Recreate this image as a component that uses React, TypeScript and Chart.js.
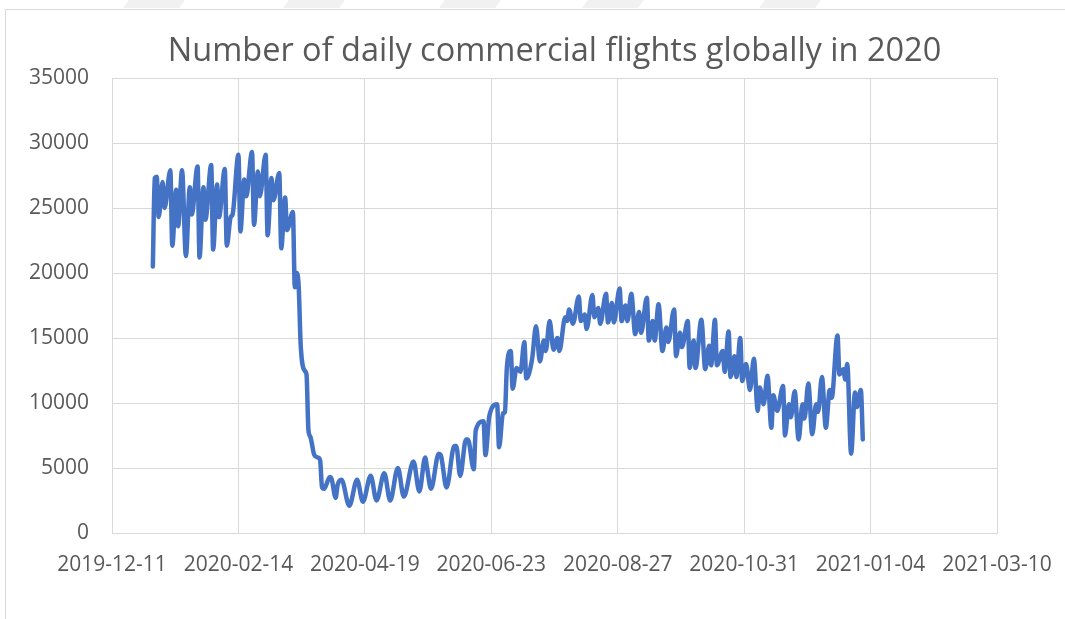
import React, { useEffect, useRef } from "react";
import { Chart, registerables } from "chart.js";

Chart.register(...registerables);

const chartTitle = "Number of daily commercial flights globally in 2020";
const axisStart = "2019-12-11";
const xTickLabels = [
  "2019-12-11", "2020-02-14", "2020-04-19", "2020-06-23",
  "2020-08-27", "2020-10-31", "2021-01-04", "2021-03-10",
];
const yMin = 0;
const yMax = 35000;
const yStep = 5000;

const dates = [
  "2020-01-01", "2020-01-02", "2020-01-03", "2020-01-04", "2020-01-06", "2020-01-07",
  "2020-01-10", "2020-01-11", "2020-01-13", "2020-01-14", "2020-01-16", "2020-01-18",
  "2020-01-20", "2020-01-21", "2020-01-24", "2020-01-25", "2020-01-27", "2020-01-28",
  "2020-01-31", "2020-02-01", "2020-02-03", "2020-02-04", "2020-02-07", "2020-02-08",
  "2020-02-10", "2020-02-11", "2020-02-14", "2020-02-15", "2020-02-17", "2020-02-18",
  "2020-02-21", "2020-02-22", "2020-02-24", "2020-02-25", "2020-02-28", "2020-02-29",
  "2020-03-02", "2020-03-03", "2020-03-06", "2020-03-07", "2020-03-09", "2020-03-10",
  "2020-03-13", "2020-03-14", "2020-03-15", "2020-03-16", "2020-03-17", "2020-03-19",
  "2020-03-20", "2020-03-21", "2020-03-22", "2020-03-24", "2020-03-26", "2020-03-27",
  "2020-03-28", "2020-03-29", "2020-04-01", "2020-04-02", "2020-04-04", "2020-04-05",
  "2020-04-07", "2020-04-11", "2020-04-15", "2020-04-18", "2020-04-22", "2020-04-25",
  "2020-04-29", "2020-05-02", "2020-05-06", "2020-05-09", "2020-05-14", "2020-05-17",
  "2020-05-20", "2020-05-21", "2020-05-23", "2020-05-27", "2020-05-28", "2020-05-31",
  "2020-06-04", "2020-06-05", "2020-06-07", "2020-06-10", "2020-06-11", "2020-06-14",
  "2020-06-15", "2020-06-19", "2020-06-20", "2020-06-22", "2020-06-26", "2020-06-27",
  "2020-06-29", "2020-06-30", "2020-07-01", "2020-07-03", "2020-07-04", "2020-07-06",
  "2020-07-08", "2020-07-10", "2020-07-11", "2020-07-14", "2020-07-16", "2020-07-18",
  "2020-07-20", "2020-07-21", "2020-07-23", "2020-07-25", "2020-07-27", "2020-07-28",
  "2020-07-31", "2020-08-01", "2020-08-02", "2020-08-04", "2020-08-07", "2020-08-08",
  "2020-08-10", "2020-08-11", "2020-08-14", "2020-08-15", "2020-08-17", "2020-08-18",
  "2020-08-21", "2020-08-22", "2020-08-24", "2020-08-25", "2020-08-28", "2020-08-29",
  "2020-08-31", "2020-09-01", "2020-09-03", "2020-09-05", "2020-09-07", "2020-09-08",
  "2020-09-11", "2020-09-12", "2020-09-14", "2020-09-15", "2020-09-17", "2020-09-19",
  "2020-09-21", "2020-09-22", "2020-09-25", "2020-09-26", "2020-09-28", "2020-09-29",
  "2020-10-02", "2020-10-03", "2020-10-05", "2020-10-06", "2020-10-09", "2020-10-11",
  "2020-10-13", "2020-10-14", "2020-10-16", "2020-10-17", "2020-10-20", "2020-10-21",
  "2020-10-23", "2020-10-24", "2020-10-26", "2020-10-27", "2020-10-29", "2020-10-30",
  "2020-11-01", "2020-11-03", "2020-11-05", "2020-11-07", "2020-11-08", "2020-11-10",
  "2020-11-12", "2020-11-14", "2020-11-15", "2020-11-17", "2020-11-20", "2020-11-21",
  "2020-11-23", "2020-11-24", "2020-11-26", "2020-11-28", "2020-11-30", "2020-12-01",
  "2020-12-03", "2020-12-05", "2020-12-07", "2020-12-08", "2020-12-10", "2020-12-12",
  "2020-12-14", "2020-12-15", "2020-12-18", "2020-12-19", "2020-12-21", "2020-12-22",
  "2020-12-23", "2020-12-25", "2020-12-27", "2020-12-28", "2020-12-30", "2020-12-31",
];

const flights = [
  20500, 27300, 27400, 24300, 27000, 25000,
  27900, 22100, 26400, 23600, 27900, 21300,
  26600, 24500, 28200, 21200, 26600, 24100,
  28300, 21800, 26800, 24300, 28000, 22100,
  24300, 24500, 29100, 23200, 27200, 25900,
  29300, 23700, 27800, 25900, 29100, 22900,
  27300, 25600, 27700, 21900, 25800, 23300,
  24700, 18900, 20000, 18900, 14500, 12500,
  12200, 7900, 7400, 6000, 5800, 5600,
  3500, 3400, 4300, 4100, 2700, 3700,
  4100, 2100, 4100, 2400, 4400, 2500,
  4600, 2500, 5000, 2800, 5500, 3200,
  5800, 5000, 3400, 6100, 6000, 3500,
  6700, 6700, 4400, 7200, 7200, 4900,
  7900, 8600, 6000, 9000, 9900, 6600,
  9200, 9300, 12700, 14000, 11100, 12700,
  12400, 14700, 11900, 13400, 15900, 13200,
  14800, 14000, 16300, 14100, 15000, 14000,
  16600, 16300, 17200, 16100, 18200, 16300,
  16800, 15700, 18300, 16600, 17300, 16100,
  18400, 16200, 17700, 16200, 18800, 16300,
  17500, 16300, 18400, 15300, 17000, 15400,
  18100, 14800, 16300, 14800, 17600, 14000,
  15800, 14700, 17200, 13600, 15400, 14300,
  16300, 12700, 14800, 12700, 16400, 12600,
  14400, 12900, 16400, 12900, 14000, 12400,
  15500, 12000, 13600, 12000, 15000, 11700,
  13000, 11000, 13400, 9400, 11200, 9900,
  12100, 8100, 10600, 9400, 11300, 7500,
  9900, 8900, 10900, 7200, 9900, 8800,
  11500, 7600, 9900, 9300, 12000, 8100,
  11000, 10400, 15200, 12200, 12600, 11800,
  13000, 6100, 10800, 9700, 11000, 7200,
];

const DAY_MS = 86400000;
const toDay = (s: string) =>
  Math.round((Date.parse(s + "T00:00:00Z") - Date.parse(axisStart + "T00:00:00Z")) / DAY_MS);

export default function App() {
  const canvasRef = useRef<HTMLCanvasElement | null>(null);

  useEffect(() => {
    const canvas = canvasRef.current;
    if (!canvas) return;
    const points = dates.map((d, i) => ({ x: toDay(d), y: flights[i] }));
    const xMin = toDay(xTickLabels[0]);
    const xMax = toDay(xTickLabels[xTickLabels.length - 1]);
    const xStep = toDay(xTickLabels[1]) - xMin;
    const gridColor = "#d9d9d9";
    const textColor = "#595959";
    const fontFamily = "'Open Sans', 'DejaVu Sans', sans-serif";

    const chart = new Chart(canvas, {
      type: "line",
      data: {
        datasets: [
          {
            label: "Flights",
            data: points,
            borderColor: "#4472C4",
            backgroundColor: "#4472C4",
            borderWidth: 4.5,
            pointRadius: 0,
            pointHoverRadius: 0,
            fill: false,
            cubicInterpolationMode: "monotone",
            borderJoinStyle: "round",
            borderCapStyle: "round",
          },
        ],
      },
      options: {
        responsive: false,
        animation: false,
        events: [],
        layout: {
          autoPadding: false,
          padding: { left: 0, right: 68, top: 0, bottom: 0 },
        },
        plugins: {
          legend: { display: false },
          tooltip: { enabled: false },
          title: {
            display: true,
            fullSize: false,
            text: chartTitle,
            color: textColor,
            font: { family: fontFamily, size: 32.5, weight: "normal", lineHeight: 1.2 },
            padding: { top: 32, bottom: 7 },
          },
        },
        scales: {
          x: {
            type: "linear",
            min: xMin,
            max: xMax,
            afterFit: (scale: any) => {
              scale.height = 86;
              scale.paddingLeft = 0;
              scale.paddingRight = 0;
            },
            ticks: {
              stepSize: xStep,
              autoSkip: false,
              maxRotation: 0,
              minRotation: 0,
              padding: 19,
              color: textColor,
              font: { family: fontFamily, size: 21 },
              callback: (v: any) => {
                const idx = Math.round((Number(v) - xMin) / xStep);
                return xTickLabels[idx] ?? "";
              },
            },
            grid: { color: gridColor, lineWidth: 1, drawTicks: false },
            border: { color: gridColor, width: 1 },
          },
          y: {
            type: "linear",
            min: yMin,
            max: yMax,
            afterFit: (scale: any) => {
              scale.width = 112;
              scale.paddingTop = 0;
              scale.paddingBottom = 0;
            },
            ticks: {
              stepSize: yStep,
              padding: 23,
              color: textColor,
              font: { family: fontFamily, size: 21 },
              callback: (v: any) => String(v),
            },
            grid: { color: gridColor, lineWidth: 1, drawTicks: false },
            border: { color: gridColor, width: 1 },
          },
        },
      },
    });
    return () => chart.destroy();
  }, []);

  const stripes = [126, 286, 442, 585, 762];

  return (
    <div
      style={{
        position: "absolute",
        left: 0,
        top: 0,
        width: 1065,
        height: 619,
        overflow: "hidden",
        background: "#ffffff",
      }}
    >
      {stripes.map((x) => (
        <div
          key={x}
          style={{
            position: "absolute",
            left: x,
            top: 0,
            width: 56,
            height: 8,
            background: "#f1f1f1",
            transform: "skewX(-35deg)",
          }}
        />
      ))}
      <div
        style={{
          position: "absolute",
          left: 5,
          top: 9,
          width: 1200,
          height: 700,
          borderLeft: "1px solid #d9d9d9",
          borderTop: "1px solid #d9d9d9",
        }}
      />
      <canvas
        ref={canvasRef}
        width={1065}
        height={619}
        style={{ position: "absolute", left: 0, top: 0, width: 1065, height: 619 }}
      />
    </div>
  );
}
